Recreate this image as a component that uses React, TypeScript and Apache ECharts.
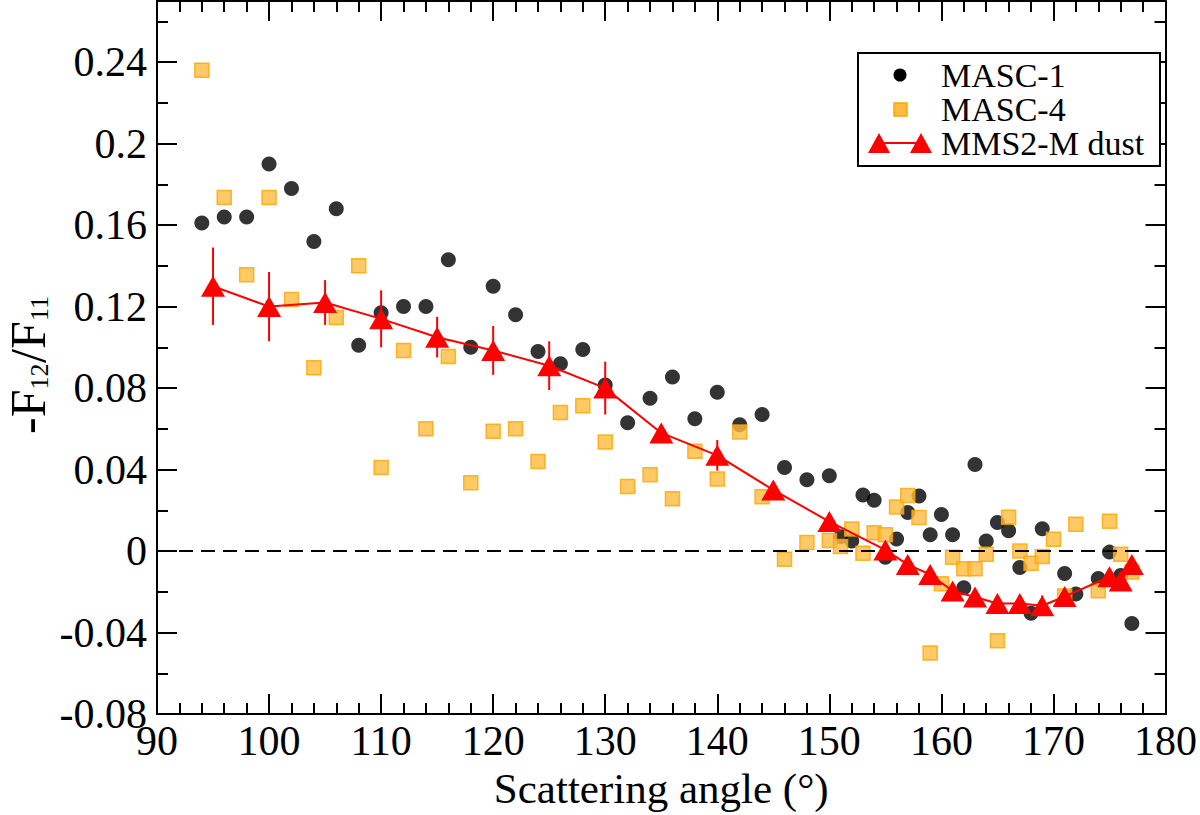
import React, { useEffect, useRef } from "react";
import * as echarts from "echarts";

const FONT = "'Liberation Serif', 'Times New Roman', Times, serif";

// MASC-1 (black circles)
const masc1X = [94, 96, 98, 100, 102, 104, 106, 108, 110, 112, 114, 116, 118, 120, 122, 124, 126, 128, 130, 132, 134, 136, 138, 140, 142, 144, 146, 148, 150, 151, 152, 153, 154, 155, 156, 157, 158, 159, 160, 161, 162, 163, 164, 165, 166, 167, 168, 169, 171, 172, 174, 175, 176, 177];
const masc1Y = [0.161, 0.164, 0.164, 0.19, 0.178, 0.152, 0.168, 0.101, 0.117, 0.12, 0.12, 0.143, 0.1, 0.13, 0.116, 0.098, 0.092, 0.099, 0.0815, 0.063, 0.075, 0.0855, 0.065, 0.078, 0.062, 0.067, 0.041, 0.035, 0.037, 0.007, 0.005, 0.0275, 0.025, -0.003, 0.006, 0.019, 0.027, 0.008, 0.018, 0.008, -0.018, 0.0425, 0.005, 0.014, 0.01, -0.008, -0.0305, 0.011, -0.011, -0.021, -0.0135, -0.0005, -0.012, -0.0355];

// MASC-4 (orange squares)
const masc4X = [94, 96, 98, 100, 102, 104, 106, 108, 110, 112, 114, 116, 118, 120, 122, 124, 126, 128, 130, 132, 134, 136, 138, 140, 142, 144, 146, 148, 150, 151, 152, 153, 154, 155, 156, 157, 158, 159, 160, 161, 162, 163, 164, 165, 166, 167, 168, 169, 170, 171, 172, 174, 175, 176, 177];
const masc4Y = [0.236, 0.1735, 0.1357, 0.1735, 0.1235, 0.09, 0.1146, 0.14, 0.041, 0.0985, 0.06, 0.0955, 0.0336, 0.0588, 0.06, 0.044, 0.068, 0.0714, 0.0535, 0.0317, 0.0375, 0.0257, 0.049, 0.0354, 0.0585, 0.0267, -0.004, 0.0042, 0.0052, 0.0023, 0.0108, -0.001, 0.009, 0.008, 0.0217, 0.0273, 0.0165, -0.05, -0.016, -0.003, -0.0087, -0.0087, -0.0015, -0.044, 0.0166, 0.0, -0.006, -0.0026, 0.0058, -0.022, 0.0132, -0.0195, 0.0147, -0.0015, -0.0103];

// MMS2-M dust (red triangles with error bars)
const dustX = [95, 100, 105, 110, 115, 120, 125, 130, 135, 140, 145, 150, 155, 157, 159, 161, 163, 165, 167, 169, 171, 175, 176, 177];
const dustY = [0.13, 0.12, 0.122, 0.114, 0.105, 0.0985, 0.091, 0.08, 0.058, 0.047, 0.03, 0.0145, 0.0006, -0.0066, -0.0115, -0.0196, -0.0225, -0.0257, -0.0257, -0.0268, -0.0223, -0.0126, -0.0147, -0.0066];
const dustErr = [0.019, 0.017, 0.011, 0.014, 0.01, 0.012, 0.012, 0.013, 0.003, 0.0075, 0.003, 0.002, 0.002, 0.002, 0.003, 0.003, 0.003, 0.004, 0.004, 0.005, 0.002, 0.002, 0.002, 0.002];

const seriesNames = ["MASC-1", "MASC-4", "MMS2-M dust"];
const xName = "Scattering angle (°)";

const X_MIN = 90, X_MAX = 180, X_INT = 10;
const Y_MIN = -0.08, Y_MAX = 0.27, Y_INT = 0.04;

const lineBlack = { color: "#000", width: 2 };

function makeX(position: "bottom" | "top", show: boolean) {
  return {
    type: "value",
    position,
    min: X_MIN,
    max: X_MAX,
    interval: X_INT,
    axisLine: { show: true, onZero: false, lineStyle: lineBlack },
    axisTick: { show: true, inside: true, length: 20, lineStyle: lineBlack },
    minorTick: { show: true, splitNumber: 5, length: 11, lineStyle: lineBlack },
    splitLine: { show: false },
    minorSplitLine: { show: false },
    axisLabel: {
      show,
      margin: 6,
      color: "#000",
      fontFamily: FONT,
      fontSize: 42,
    },
    name: show ? xName : "",
    nameLocation: "middle",
    nameGap: 44,
    nameTextStyle: { color: "#000", fontFamily: FONT, fontSize: 43 },
  };
}

function makeY(position: "left" | "right", show: boolean) {
  return {
    type: "value",
    position,
    min: Y_MIN,
    max: Y_MAX,
    interval: Y_INT,
    axisLine: { show: true, onZero: false, lineStyle: lineBlack },
    axisTick: { show: true, inside: true, length: 20, lineStyle: lineBlack },
    minorTick: { show: true, splitNumber: 2, length: 11, lineStyle: lineBlack },
    splitLine: { show: false },
    minorSplitLine: { show: false },
    axisLabel: {
      show,
      margin: 10,
      color: "#000",
      fontFamily: FONT,
      fontSize: 42,
      showMaxLabel: false,
      formatter: (v: number) => {
        if (Math.abs(v - Y_MAX) < 1e-9) return "";
        return String(parseFloat(v.toFixed(2)));
      },
    },
  };
}

export default function App() {
  const ref = useRef<HTMLDivElement>(null);

  useEffect(() => {
    if (!ref.current) return;
    const chart = echarts.init(ref.current, null, { renderer: "svg" });

    const masc1Data = masc1X.map((x, i) => [x, masc1Y[i]]);
    const masc4Data = masc4X.map((x, i) => [x, masc4Y[i]]);
    const dustData = dustX.map((x, i) => [x, dustY[i]]);
    const errData = dustX.map((x, i) => [x, dustY[i] - dustErr[i], dustY[i] + dustErr[i]]);

    const lx = 858, ly = 53, lw = 302, lh = 113;
    const tri = (cx: number, cy: number) => ({
      type: "polygon",
      shape: { points: [[cx - 11, cy + 10], [cx, cy - 10], [cx + 11, cy + 10]] },
      style: { fill: "#ff0000" },
      z: 102,
    });

    const option: any = {
      animation: false,
      backgroundColor: "#fff",
      grid: { left: 157, right: 32, top: 1, bottom: 92, containLabel: false },
      xAxis: [makeX("bottom", true), makeX("top", false)],
      yAxis: [makeY("left", true), makeY("right", false)],
      series: [
        {
          name: seriesNames[0],
          type: "scatter",
          xAxisIndex: 0,
          yAxisIndex: 0,
          data: masc1Data,
          symbol: "circle",
          symbolSize: 15,
          itemStyle: { color: "#000" },
          z: 2,
          markLine: {
            silent: true,
            symbol: "none",
            label: { show: false },
            lineStyle: { color: "#000", width: 2, type: [14, 8] },
            data: [{ yAxis: 0 }],
          },
        },
        {
          name: seriesNames[1],
          type: "scatter",
          xAxisIndex: 0,
          yAxisIndex: 0,
          data: masc4Data,
          symbol: "rect",
          symbolSize: 14,
          itemStyle: { color: "#FFBB40", borderColor: "#FFA500", borderWidth: 1.5 },
          z: 3,
        },
        {
          name: seriesNames[2] + " error",
          type: "custom",
          xAxisIndex: 0,
          yAxisIndex: 0,
          data: errData,
          encode: { x: 0, y: [1, 2] },
          z: 4,
          renderItem: (params: any, api: any) => {
            const x = api.value(0);
            const p1 = api.coord([x, api.value(1)]);
            const p2 = api.coord([x, api.value(2)]);
            return {
              type: "line",
              shape: { x1: p1[0], y1: p1[1], x2: p2[0], y2: p2[1] },
              style: { stroke: "#ff0000", lineWidth: 2 },
            };
          },
        },
        {
          name: seriesNames[2],
          type: "line",
          xAxisIndex: 0,
          yAxisIndex: 0,
          data: dustData,
          symbol: "triangle",
          symbolSize: [24, 21],
          showAllSymbol: true,
          lineStyle: { color: "#ff0000", width: 2 },
          itemStyle: { color: "#ff0000" },
          z: 5,
        },
      ],
      graphic: [
        // y-axis title: -F12/F11
        {
          type: "group",
          x: 0,
          y: 434,
          rotation: Math.PI / 2,
          children: [
            { type: "text", x: 0, y: 28, style: { text: "-F", font: `50px ${FONT}`, fill: "#000", align: "left", verticalAlign: "middle" } },
            { type: "text", x: 44.5, y: 39.5, style: { text: "12", font: `26px ${FONT}`, fill: "#000", align: "left", verticalAlign: "middle" } },
            { type: "text", x: 71, y: 28, style: { text: "/F", font: `50px ${FONT}`, fill: "#000", align: "left", verticalAlign: "middle" } },
            { type: "text", x: 113, y: 39.5, style: { text: "11", font: `26px ${FONT}`, fill: "#000", align: "left", verticalAlign: "middle" } },
          ],
        },
        // legend
        {
          type: "rect",
          shape: { x: lx, y: ly, width: lw, height: lh },
          style: { fill: "#fff", stroke: "#000", lineWidth: 2 },
          z: 100,
        },
        { type: "circle", shape: { cx: 900, cy: 75, r: 6.5 }, style: { fill: "#000" }, z: 101 },
        {
          type: "rect",
          shape: { x: 894, y: 103, width: 13, height: 13 },
          style: { fill: "#FFBB40", stroke: "#FFA500", lineWidth: 1.5 },
          z: 101,
        },
        { type: "line", shape: { x1: 879, y1: 143, x2: 921, y2: 143 }, style: { stroke: "#ff0000", lineWidth: 2 }, z: 101 },
        tri(879, 143),
        tri(921, 143),
        { type: "text", x: 941, y: 75, style: { text: seriesNames[0], font: `34px ${FONT}`, fill: "#000", verticalAlign: "middle" }, z: 101 },
        { type: "text", x: 941, y: 109, style: { text: seriesNames[1], font: `34px ${FONT}`, fill: "#000", verticalAlign: "middle" }, z: 101 },
        { type: "text", x: 941, y: 143, style: { text: seriesNames[2], font: `34px ${FONT}`, fill: "#000", verticalAlign: "middle" }, z: 101 },
      ],
    };

    chart.setOption(option);
    return () => chart.dispose();
  }, []);

  return (
    <div
      ref={ref}
      style={{ position: "absolute", left: 0, top: 0, width: 1200, height: 815, background: "#fff" }}
    />
  );
}
